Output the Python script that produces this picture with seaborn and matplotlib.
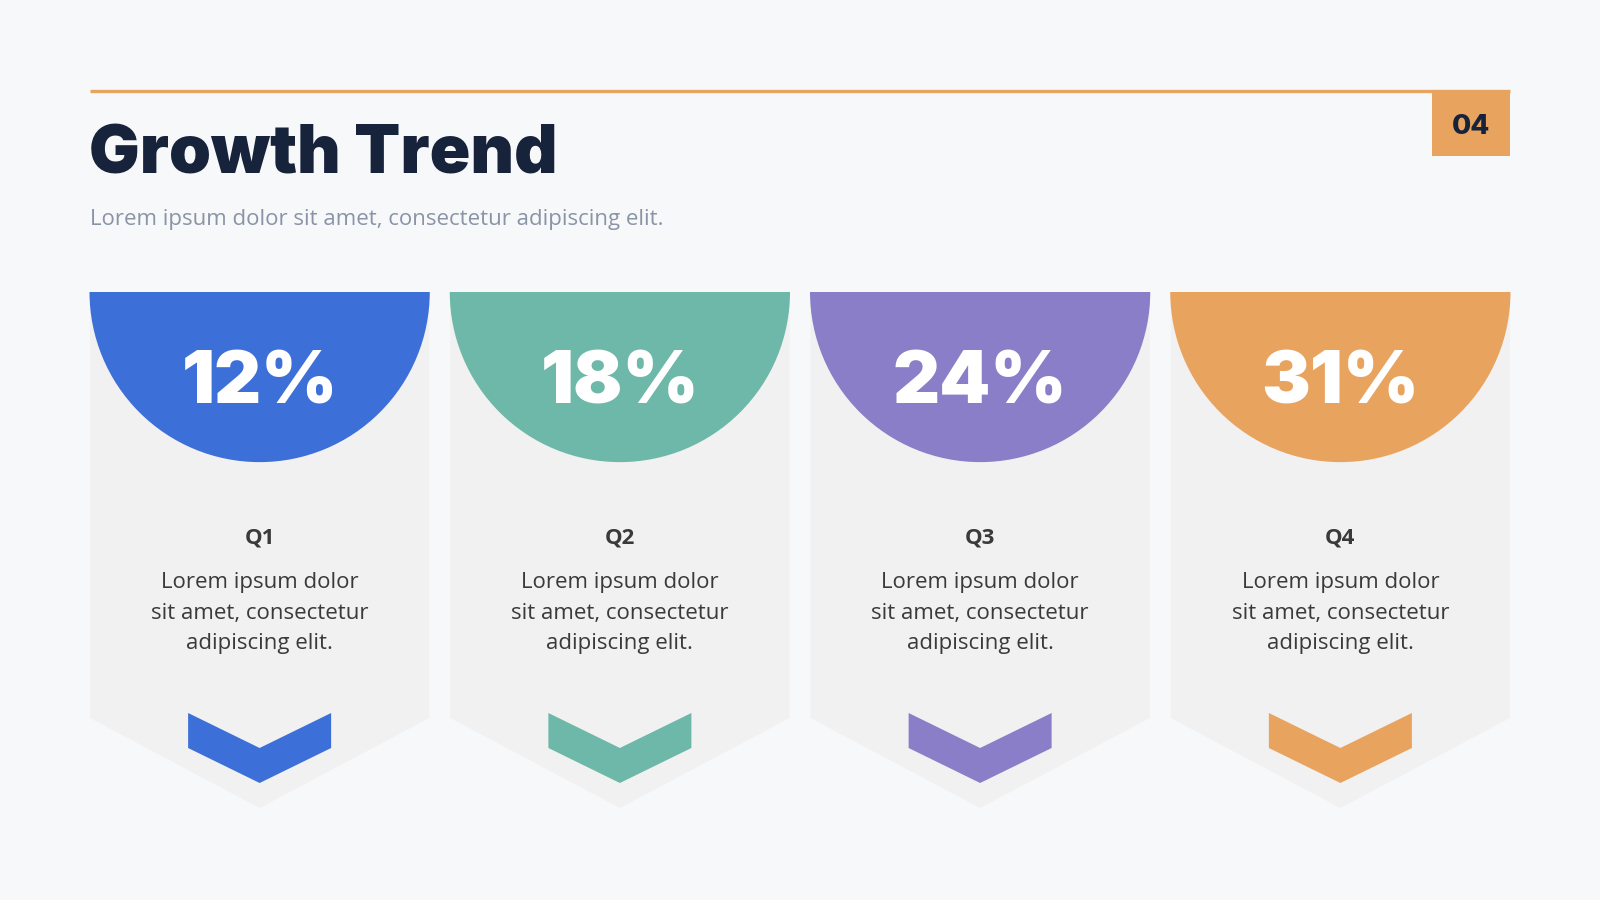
import matplotlib
matplotlib.use("Agg")
import matplotlib.pyplot as plt
from matplotlib.patches import Polygon, Wedge, Rectangle
import seaborn as sns

# data
quarters = ["Q1", "Q2", "Q3", "Q4"]
growth = [12, 18, 24, 31]
descriptions = ["Lorem ipsum dolor\nsit amet, consectetur\nadipiscing elit."] * 4
card_colors = ["#3d6fd8", "#6db8a8", "#8b7ec8", "#e8a35e"]

title = "Growth Trend"
subtitle = "Lorem ipsum dolor sit amet, consectetur adipiscing elit."
page_no = "04"

sns.set_theme(style="white")
plt.rcParams['font.family'] = ['Open Sans', 'DejaVu Sans']

BG = "#f7f8fa"
CARD = "#f1f1f1"
NAVY = "#17223b"

fig = plt.figure(figsize=(16, 9), dpi=100, facecolor=BG)
ax = fig.add_axes([0, 0, 1, 1])
ax.set_xlim(0, 1600)
ax.set_ylim(900, 0)
ax.set_facecolor(BG)
ax.axis("off")

# header
ax.plot([90, 1510], [91, 91], color="#e8a35e", lw=2.4, solid_capstyle="butt")
ax.add_patch(Rectangle((1432, 90), 78, 66, color="#e8a35e", lw=0))
ax.text(1471, 127, page_no, ha="center", va="center", fontsize=20,
        fontweight="heavy", color=NAVY, family=["Inter", "DejaVu Sans"])
ax.text(89, 173, title, ha="left", va="baseline", fontsize=48.5,
        fontweight="black", color=NAVY, family=["Inter", "DejaVu Sans"])
ax.text(90, 219, subtitle, ha="left", va="center", fontsize=16,
        color="#8a94a6")

# cards
left, right, gap = 90, 1510, 21
w = (right - left - gap * (len(quarters) - 1)) / len(quarters)
top, side_bottom, tip = 292, 718, 808
r = w / 2

for i, (q, g, d, c) in enumerate(zip(quarters, growth, descriptions, card_colors)):
    x0 = left + i * (w + gap)
    cx = x0 + w / 2
    ax.add_patch(Polygon([(x0, top), (x0 + w, top), (x0 + w, side_bottom),
                          (cx, tip), (x0, side_bottom)], closed=True,
                         color=CARD, lw=0))
    ax.add_patch(Wedge((cx, top), r + 0.5, 0, 180, color=c, lw=0))
    ax.text(cx, 384, f"{g}%", ha="center", va="center", fontsize=52.5,
            fontweight="black", color="white", family=["Inter", "DejaVu Sans"])
    ax.text(cx, 538, q, ha="center", va="center", fontsize=16,
            fontweight="bold", color="#3a3a3a")
    ax.text(cx, 613, d, ha="center", va="center", fontsize=16,
            color="#3a3a3a", linespacing=1.58)
    hw, th = 71.5, 35
    ax.add_patch(Polygon([(cx - hw, 713), (cx, 713 + th), (cx + hw, 713),
                          (cx + hw, 713 + th), (cx, 713 + 2 * th),
                          (cx - hw, 713 + th)], closed=True, color=c, lw=0))

fig.savefig("out.png", dpi=100, facecolor=BG)
